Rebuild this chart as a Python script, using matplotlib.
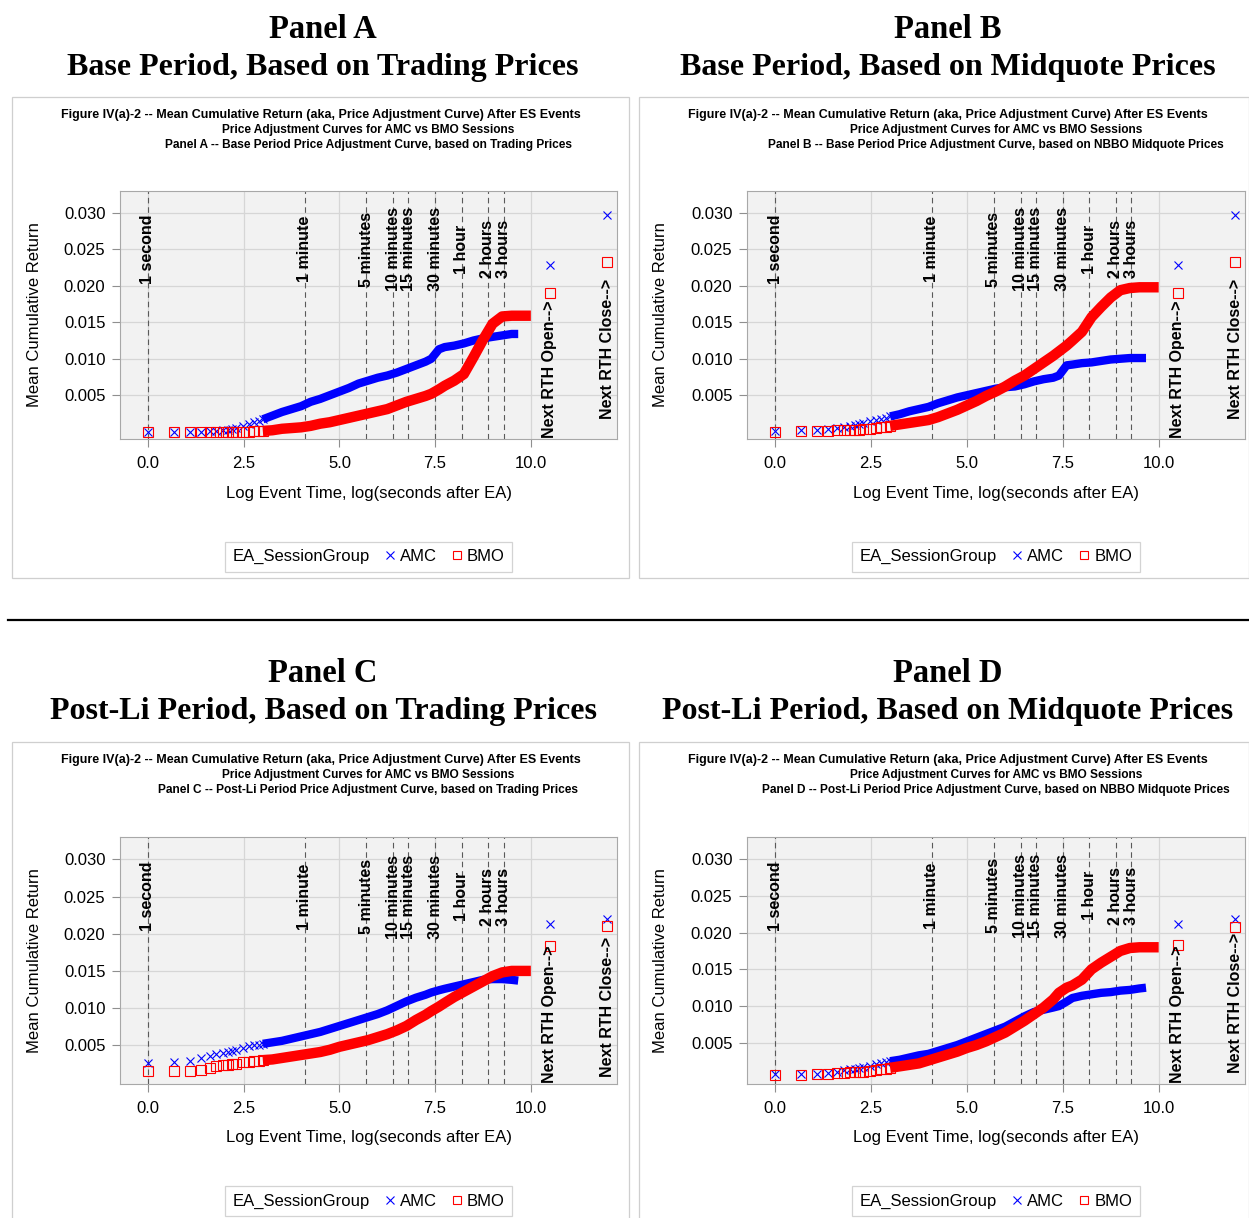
import matplotlib
matplotlib.use('Agg')
import matplotlib.pyplot as plt
from matplotlib.lines import Line2D
from matplotlib.patches import Rectangle
import numpy as np

plt.rcParams['font.family'] = ['Liberation Sans', 'DejaVu Sans']

W, H = 1249, 1218

log_t = [0.0, 0.69, 1.10, 1.39, 1.61, 1.79, 1.95, 2.08, 2.20, 2.30,
         2.48, 2.64, 2.77, 2.89, 3.0, 3.25, 3.5, 3.75, 4.0, 4.25,
         4.5, 4.75, 5.0, 5.25, 5.5, 5.75, 6.0, 6.25, 6.5, 6.75,
         7.0, 7.25, 7.4, 7.6, 7.75, 8.0, 8.25, 8.5, 8.75, 9.0, 9.25, 9.5]
log_t_amc = log_t + [9.67]
log_t_bmo = log_t + [9.75, 10.0]

amc_A = [0.0000, 0.0000, 0.0000, 0.0000, 0.0001, 0.0001, 0.0002, 0.0003, 0.0004, 0.0005,
         0.0008, 0.0011, 0.0013, 0.0015, 0.0017, 0.0022, 0.0027, 0.0031, 0.0035, 0.0041,
         0.0045, 0.0050, 0.0055, 0.0060, 0.0066, 0.0070, 0.0074, 0.0077, 0.0081, 0.0086,
         0.0091, 0.0096, 0.0100, 0.0113, 0.0116, 0.0118, 0.0121, 0.0125, 0.0128, 0.0130,
         0.0132, 0.0134, 0.0134]
bmo_A = [0.0000, 0.0000, 0.0000, 0.0000, 0.0000, 0.0000, 0.0000, 0.0000, 0.0000, 0.0000,
         0.0000, 0.0000, 0.0001, 0.0001, 0.0001, 0.0002, 0.0004, 0.0005, 0.0006, 0.0008,
         0.0011, 0.0013, 0.0016, 0.0019, 0.0022, 0.0025, 0.0028, 0.0031, 0.0036, 0.0041,
         0.0045, 0.0049, 0.0052, 0.0058, 0.0063, 0.0070, 0.0079, 0.0102, 0.0126, 0.0148,
         0.0158, 0.0159, 0.0159, 0.0159]

amc_B = [0.0001, 0.0002, 0.0003, 0.0004, 0.0005, 0.0006, 0.0008, 0.0009, 0.0011, 0.0012,
         0.0014, 0.0016, 0.0018, 0.0019, 0.0021, 0.0024, 0.0028, 0.0031, 0.0034, 0.0039,
         0.0043, 0.0047, 0.0050, 0.0053, 0.0056, 0.0059, 0.0061, 0.0062, 0.0065, 0.0069,
         0.0072, 0.0074, 0.0077, 0.0091, 0.0092, 0.0094, 0.0095, 0.0097, 0.0099, 0.0100,
         0.0101, 0.0101, 0.0101]
bmo_B = [0.0000, 0.0001, 0.0001, 0.0001, 0.0002, 0.0002, 0.0002, 0.0003, 0.0003, 0.0004,
         0.0004, 0.0005, 0.0006, 0.0007, 0.0008, 0.0010, 0.0012, 0.0014, 0.0016, 0.0020,
         0.0025, 0.0030, 0.0036, 0.0042, 0.0049, 0.0055, 0.0062, 0.0070, 0.0077, 0.0086,
         0.0095, 0.0104, 0.0110, 0.0118, 0.0125, 0.0137, 0.0157, 0.0171, 0.0184, 0.0194,
         0.0197, 0.0198, 0.0198, 0.0198]

amc_C = [0.0026, 0.0027, 0.0029, 0.0033, 0.0036, 0.0038, 0.0040, 0.0041, 0.0043, 0.0044,
         0.0047, 0.0049, 0.0050, 0.0051, 0.0052, 0.0054, 0.0056, 0.0059, 0.0062, 0.0065,
         0.0068, 0.0072, 0.0076, 0.0080, 0.0084, 0.0088, 0.0092, 0.0097, 0.0103, 0.0109,
         0.0114, 0.0118, 0.0121, 0.0124, 0.0126, 0.0129, 0.0132, 0.0135, 0.0138, 0.0139,
         0.0139, 0.0138, 0.0137]
bmo_C = [0.0015, 0.0015, 0.0015, 0.0017, 0.0020, 0.0022, 0.0023, 0.0024, 0.0025, 0.0025,
         0.0027, 0.0028, 0.0029, 0.0029, 0.0030, 0.0031, 0.0033, 0.0035, 0.0037, 0.0039,
         0.0041, 0.0044, 0.0048, 0.0051, 0.0054, 0.0057, 0.0061, 0.0065, 0.0070, 0.0076,
         0.0084, 0.0091, 0.0096, 0.0102, 0.0107, 0.0115, 0.0122, 0.0129, 0.0136, 0.0143,
         0.0148, 0.0150, 0.0150, 0.0150]

amc_D = [0.0007, 0.0007, 0.0008, 0.0009, 0.0011, 0.0013, 0.0014, 0.0015, 0.0016, 0.0017,
         0.0019, 0.0021, 0.0022, 0.0024, 0.0025, 0.0027, 0.0030, 0.0033, 0.0035, 0.0039,
         0.0043, 0.0047, 0.0052, 0.0057, 0.0062, 0.0067, 0.0072, 0.0079, 0.0086, 0.0092,
         0.0095, 0.0098, 0.0100, 0.0106, 0.0111, 0.0114, 0.0116, 0.0118, 0.0119, 0.0121,
         0.0122, 0.0124, 0.0125]
bmo_D = [0.0006, 0.0006, 0.0007, 0.0008, 0.0009, 0.0009, 0.0010, 0.0010, 0.0010, 0.0011,
         0.0012, 0.0013, 0.0014, 0.0015, 0.0016, 0.0018, 0.0020, 0.0022, 0.0026, 0.0030,
         0.0034, 0.0038, 0.0043, 0.0047, 0.0052, 0.0058, 0.0064, 0.0072, 0.0080, 0.0089,
         0.0098, 0.0109, 0.0118, 0.0125, 0.0128, 0.0136, 0.0150, 0.0159, 0.0167, 0.0175,
         0.0179, 0.0180, 0.0180, 0.0180]

# next RTH open / close points (x = 10.5, 12)
rth_x = [10.5, 12.0]
rth_labels = ['Next RTH Open-->', 'Next RTH Close-->']
amc_rth = {'A': [0.0229, 0.0297], 'B': [0.0229, 0.0297],
           'C': [0.0213, 0.0220], 'D': [0.0212, 0.0218]}
bmo_rth = {'A': [0.0190, 0.0232], 'B': [0.0190, 0.0232],
           'C': [0.0183, 0.0210], 'D': [0.0183, 0.0208]}

event_x = [0.0, 4.09, 5.70, 6.40, 6.80, 7.50, 8.19, 8.88, 9.29]
event_labels = ['1 second', '1 minute', '5 minutes', '10 minutes', '15 minutes',
                '30 minutes', '1 hour', '2 hours', '3 hours']

x_ticks = [0.0, 2.5, 5.0, 7.5, 10.0]
y_ticks = [0.005, 0.010, 0.015, 0.020, 0.025, 0.030]

title1 = 'Figure IV(a)-2 -- Mean Cumulative Return (aka, Price Adjustment Curve) After ES Events'
title2 = 'Price Adjustment Curves for AMC vs BMO Sessions'

panels = [
    dict(key='A', frame=(12, 97, 629, 578), plot=(120, 191, 617, 439), ylim=(-0.001, 0.033),
         head_x=323, head_y=30, head='Base Period, Based on Trading Prices',
         sub='Panel A -- Base Period Price Adjustment Curve, based on Trading Prices',
         amc=amc_A, bmo=bmo_A, close_pad=0.08),
    dict(key='B', frame=(639, 97, 1249, 578), plot=(747, 191, 1245, 439), ylim=(-0.001, 0.033),
         head_x=948, head_y=30, head='Base Period, Based on Midquote Prices',
         sub='Panel B -- Base Period Price Adjustment Curve, based on NBBO Midquote Prices',
         amc=amc_B, bmo=bmo_B, close_pad=0.08),
    dict(key='C', frame=(12, 742, 629, 1230), plot=(120, 837, 617, 1084), ylim=(-0.0002, 0.033),
         head_x=323, head_y=674, head='Post-Li Period, Based on Trading Prices',
         sub='Panel C -- Post-Li Period Price Adjustment Curve, based on Trading Prices',
         amc=amc_C, bmo=bmo_C, close_pad=0.03),
    dict(key='D', frame=(639, 742, 1249, 1230), plot=(747, 837, 1245, 1084), ylim=(-0.0006, 0.033),
         head_x=948, head_y=674, head='Post-Li Period, Based on Midquote Prices',
         sub='Panel D -- Post-Li Period Price Adjustment Curve, based on NBBO Midquote Prices',
         amc=amc_D, bmo=bmo_D, close_pad=0.045),
]


def fx(x):
    return x / W


def fy(y):
    return 1 - y / H


fig = plt.figure(figsize=(W / 100, H / 100), dpi=100)
fig.patch.set_facecolor('white')

# separator between the two rows
fig.add_artist(Line2D([fx(8), fx(1249)], [fy(620), fy(620)], color='black', lw=1.6))

for p in panels:
    l, t, r, b = p['frame']
    fig.add_artist(Rectangle((fx(l), fy(b)), fx(r) - fx(l), fy(t) - fy(b),
                             transform=fig.transFigure, fill=False,
                             edgecolor='#cfcfcf', lw=0.9))
    fig.text(fx(p['head_x']), fy(p['head_y']), 'Panel ' + p['key'], ha='center', va='center',
             family='Liberation Serif', weight='bold', fontsize=23.5)
    fig.text(fx(p['head_x']), fy(p['head_y'] + 38), p['head'], ha='center', va='center',
             family='Liberation Serif', weight='bold', fontsize=23)

    pl, pt, pr, pb = p['plot']
    fig.text(fx(l + 309), fy(t + 18), title1, ha='center', va='center', fontsize=9, weight='bold')
    fig.text(fx((pl + pr) / 2), fy(t + 33), title2, ha='center', va='center', fontsize=8.6, weight='bold')
    fig.text(fx((pl + pr) / 2), fy(t + 48), p['sub'], ha='center', va='center', fontsize=8.6, weight='bold')

    ax = fig.add_axes([fx(pl), fy(pb), fx(pr) - fx(pl), fy(pt) - fy(pb)])
    ax.set_facecolor('#f2f2f2')
    ax.set_xlim(-0.73, 12.25)
    ax.set_ylim(*p['ylim'])
    ax.set_xticks(x_ticks)
    ax.set_xticklabels(['%.1f' % v for v in x_ticks])
    ax.set_yticks(y_ticks)
    ax.set_yticklabels(['%.3f' % v for v in y_ticks])
    ax.tick_params(direction='out', length=5.5, width=0.8, color='#8f8f8f',
                   labelsize=12, pad=5)
    ax.tick_params(axis='x', pad=7)
    for s in ax.spines.values():
        s.set_color('#a8a8a8')
        s.set_linewidth(0.8)
    ax.grid(True, color='#d6d6d6', lw=0.9)
    ax.set_axisbelow(True)

    for ex, lab in zip(event_x, event_labels):
        ax.axvline(ex, color='#5a5a5a', lw=0.8, dashes=(5, 3.5), zorder=1)
        ax.text(ex, 0.025, lab, rotation=90, ha='center', va='center',
                fontsize=11.5, weight='bold', zorder=2)

    # AMC then BMO: single markers early on, a solid band where they pile up
    for tt, yy, col, mk, ms, lw in [(log_t_amc, p['amc'], 'blue', 'x', 5.5, 6.0),
                                    (log_t_bmo, p['bmo'], 'red', 's', 6.5, 7.5)]:
        tt = np.array(tt)
        yy = np.array(yy)
        band = tt >= 3.0
        ax.plot(tt[band], yy[band], color=col, lw=lw, solid_capstyle='butt',
                solid_joinstyle='round', zorder=3)
        ax.plot(tt[tt <= 3.0], yy[tt <= 3.0], ls='none', marker=mk, ms=ms, mfc='none',
                mec=col, mew=0.8, zorder=3)

    ax.plot(rth_x, amc_rth[p['key']], ls='none', marker='x', ms=6, mec='blue', mew=0.8, zorder=3)
    ax.plot(rth_x, bmo_rth[p['key']], ls='none', marker='s', ms=6.5, mfc='none', mec='red',
            mew=0.8, zorder=3)
    ax.text(rth_x[0], 0.005, rth_labels[0], rotation=90, ha='center', va='bottom',
            fontsize=11.5, weight='bold', transform=ax.get_xaxis_transform())
    ax.text(rth_x[1], p['close_pad'], rth_labels[1], rotation=90, ha='center', va='bottom',
            fontsize=11.5, weight='bold', transform=ax.get_xaxis_transform())

    ax.text(-0.173, 0.5, 'Mean Cumulative Return', rotation=90, ha='center', va='center',
            fontsize=12, transform=ax.transAxes)
    ax.text(0.5, -0.218, 'Log Event Time, log(seconds after EA)', ha='center', va='center',
            fontsize=12, transform=ax.transAxes)

    dummy = Line2D([], [], ls='none', marker='none')
    h_amc = Line2D([], [], ls='none', marker='x', ms=6, mec='blue', mew=0.8)
    h_bmo = Line2D([], [], ls='none', marker='s', ms=6, mfc='none', mec='red', mew=0.8)
    leg = ax.legend([dummy, h_amc, h_bmo], ['EA_SessionGroup', 'AMC', 'BMO'], ncol=3,
                    loc='center', bbox_to_anchor=(0.5, -0.475), fontsize=12, frameon=True,
                    fancybox=False, edgecolor='#c8c8c8', handlelength=0.8,
                    handletextpad=0.2, columnspacing=0.8, borderpad=0.45, borderaxespad=0)
    leg.get_frame().set_linewidth(0.9)
    # the group title has no symbol: drop its empty handle slot
    try:
        row0 = leg._legend_handle_box.get_children()[0].get_children()[0]
        row0.get_children()[0].width = 0
        row0.sep = 0
    except Exception:
        pass

fig.savefig('out.png', dpi=100)
